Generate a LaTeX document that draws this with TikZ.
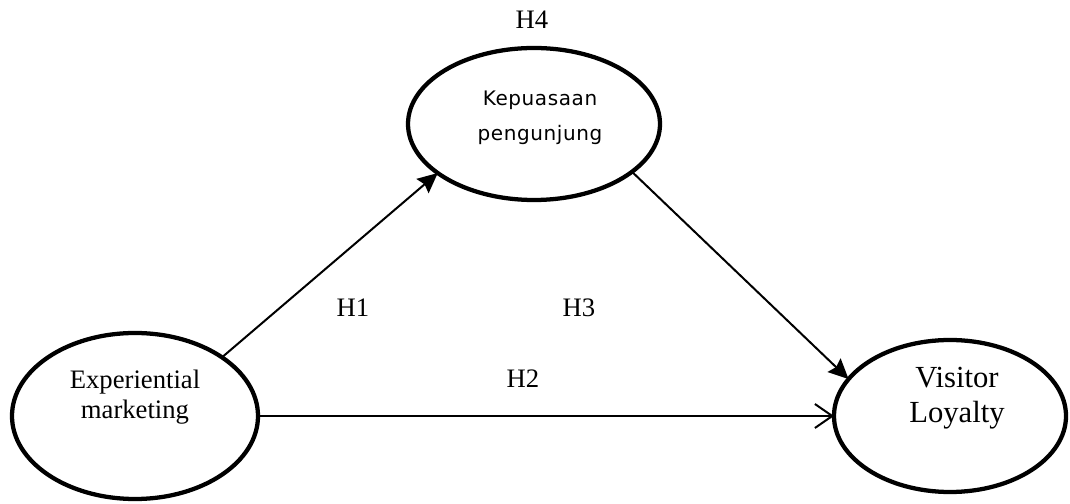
\documentclass[tikz,border=0pt]{standalone}
\usepackage{fontspec}
\setmainfont{Liberation Serif}
\newfontfamily\kepfont[LetterSpace=3]{DejaVu Sans}
\usetikzlibrary{shapes.geometric,arrows.meta}

\begin{document}
\begin{tikzpicture}[x=0.75pt, y=0.75pt, line width=1.5pt,
    var/.style={ellipse, draw, line width=3.2pt, inner sep=0pt, outer sep=0pt},
    hyp/.style={font=\fontsize{20}{24}\selectfont},
    solidarrow/.style={-{Stealth[length=15pt,width=14pt,inset=2pt]}},
    openarrow/.style={-{Straight Barb[length=13pt,width=18pt]}}]
  \useasboundingbox (0,0) rectangle (1070,503);

  % variabel (elips)
  \node[var, minimum width=184.5pt, minimum height=124.5pt] (exp) at (135,87) {};
  \node[var, minimum width=189pt, minimum height=114pt] (kep) at (534,379) {};
  \node[var, minimum width=174pt, minimum height=114pt] (vl) at (950,87) {};

  % teks di dalam elips
  \node[align=center, font=\fontsize{20}{22.5}\selectfont] (exptxt) at (135,106) {Experiential\\marketing};
  \node[align=center, font=\kepfont\fontsize{15}{26}\selectfont] (keptxt) at (540,385) {Kepuasaan\\pengunjung};
  \node[align=center, font=\fontsize{23}{26}\selectfont] (vltxt) at (957,105) {Visitor\\Loyalty};

  % hipotesis
  \node[hyp] (h4) at (532,483) {H4};
  \node[hyp] (h1) at (353,195) {H1};
  \node[hyp] (h3) at (579,195) {H3};
  \node[hyp] (h2) at (523,124) {H2};

  % panah
  \draw[solidarrow] (exp.34.6) -- (kep.207);
  \draw[solidarrow] (kep.334) -- (vl.160);
  \draw[openarrow] (exp.east) -- (vl.west);
\end{tikzpicture}
\end{document}
